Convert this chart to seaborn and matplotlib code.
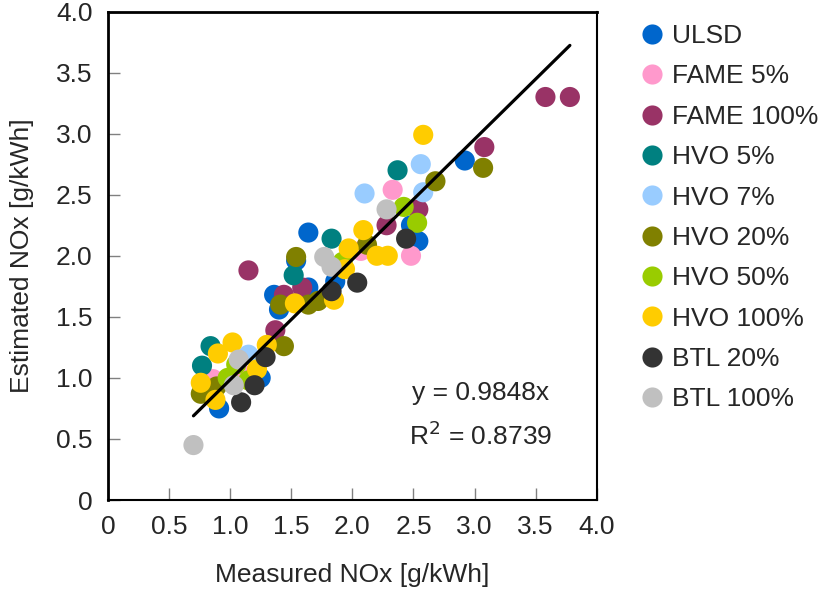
import matplotlib
matplotlib.use("Agg")
import matplotlib.pyplot as plt
import seaborn as sns
import pandas as pd
import numpy as np

series = ["ULSD", "FAME 5%", "FAME 100%", "HVO 5%", "HVO 7%",
          "HVO 20%", "HVO 50%", "HVO 100%", "BTL 20%", "BTL 100%"]
colors = ["#0066CC", "#FF99CC", "#993366", "#008080", "#99CCFF",
          "#808000", "#99CC00", "#FFCC00", "#333333", "#C0C0C0"]

ulsd_x = [2.92, 2.48, 2.54, 1.64, 1.86, 1.36, 1.40, 1.64, 1.25, 0.91, 1.54]
ulsd_y = [2.78, 2.25, 2.12, 2.19, 1.79, 1.68, 1.56, 1.74, 1.00, 0.75, 1.96]
fame5_x = [2.33, 2.48, 0.86, 1.12, 2.07]
fame5_y = [2.54, 2.00, 0.99, 1.02, 2.04]
fame100_x = [3.58, 3.78, 3.08, 2.54, 2.28, 1.15, 1.44, 1.59, 1.37]
fame100_y = [3.30, 3.30, 2.89, 2.38, 2.25, 1.88, 1.68, 1.74, 1.39]
hvo5_x = [2.37, 1.83, 1.52, 0.84, 0.77]
hvo5_y = [2.70, 2.14, 1.84, 1.26, 1.10]
hvo7_x = [2.10, 2.56, 2.58, 1.15]
hvo7_y = [2.51, 2.75, 2.52, 1.19]
hvo20_x = [3.07, 2.68, 2.12, 1.54, 1.41, 1.64, 1.72, 1.44, 0.89, 0.76]
hvo20_y = [2.72, 2.61, 2.09, 1.99, 1.60, 1.60, 1.63, 1.26, 0.93, 0.87]
hvo50_x = [2.42, 2.53, 1.92, 0.98, 1.15, 1.05]
hvo50_y = [2.40, 2.27, 1.95, 1.00, 0.98, 1.11]
hvo100_x = [2.58, 2.09, 2.20, 2.29, 1.97, 1.94, 1.85, 1.53, 1.30, 1.02, 0.90, 1.22, 0.76, 0.88]
hvo100_y = [2.99, 2.21, 2.00, 2.00, 2.06, 1.89, 1.64, 1.61, 1.27, 1.29, 1.20, 1.07, 0.96, 0.82]
btl20_x = [2.44, 2.04, 1.83, 1.29, 1.20, 1.09]
btl20_y = [2.14, 1.78, 1.71, 1.17, 0.94, 0.80]
btl100_x = [2.28, 1.77, 1.83, 1.07, 1.03, 0.70]
btl100_y = [2.38, 1.99, 1.91, 1.15, 0.94, 0.45]

slope = 0.9848
r2 = 0.8739
ticks = [0, 0.5, 1.0, 1.5, 2.0, 2.5, 3.0, 3.5, 4.0]
tick_labels = ["0", "0.5", "1.0", "1.5", "2.0", "2.5", "3.0", "3.5", "4.0"]

xs = [ulsd_x, fame5_x, fame100_x, hvo5_x, hvo7_x, hvo20_x, hvo50_x, hvo100_x, btl20_x, btl100_x]
ys = [ulsd_y, fame5_y, fame100_y, hvo5_y, hvo7_y, hvo20_y, hvo50_y, hvo100_y, btl20_y, btl100_y]
rows = []
for name, xv, yv in zip(series, xs, ys):
    for a, b in zip(xv, yv):
        rows.append({"Fuel": name, "Measured": a, "Estimated": b})
df = pd.DataFrame(rows)

sns.set_theme(style="white")
plt.rcParams['font.family'] = ['Liberation Sans', 'DejaVu Sans']
fs = 19

fig = plt.figure(figsize=(8.3, 5.9), dpi=100)
ax = fig.add_axes([0.130, 0.1525, 0.589, 0.828])

sns.scatterplot(data=df, x="Measured", y="Estimated", hue="Fuel",
                hue_order=series, palette=colors, s=210, linewidth=0,
                alpha=1, ax=ax, zorder=2)

allx = np.array(df["Measured"])
lx = np.array([allx.min(), allx.max()])
ax.plot(lx, slope * lx, color="black", lw=2.3, zorder=3)

ax.text(3.05, 0.88, f"y = {slope:.4f}x", fontsize=fs, ha="center", va="center")
ax.text(3.05, 0.53, f"R$^2$ = {r2:.4f}", fontsize=fs, ha="center", va="center")

ax.set_xlim(0, 4)
ax.set_ylim(0, 4)
ax.set_xticks(ticks)
ax.set_xticklabels(tick_labels)
ax.set_yticks(ticks)
ax.set_yticklabels(tick_labels)
ax.tick_params(direction="in", length=8.5, width=1, color="#808080",
               labelsize=fs, pad=11, bottom=True, left=True)
ax.set_xlabel("Measured NOx [g/kWh]", fontsize=fs, labelpad=17)
ax.set_ylabel("Estimated NOx [g/kWh]", fontsize=fs, labelpad=16)
for sp in ax.spines.values():
    sp.set_color("black")
    sp.set_linewidth(1.5)
ax.spines["left"].set_linewidth(2)
ax.spines["top"].set_linewidth(2)

sns.move_legend(ax, loc="upper left", bbox_to_anchor=(1.049, 1.012),
                frameon=False, title=None, fontsize=fs,
                labelspacing=0.62, handlelength=1.0, handletextpad=0.25,
                borderaxespad=0.3)

fig.savefig("out.png", dpi=100)
